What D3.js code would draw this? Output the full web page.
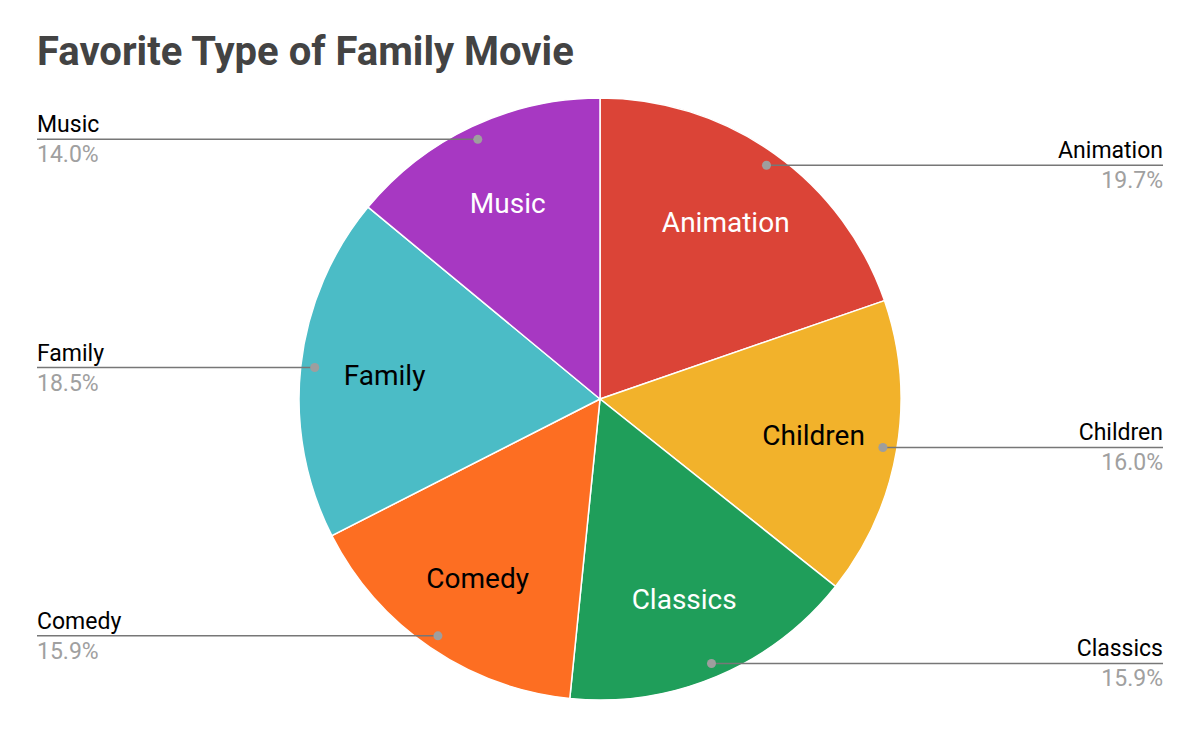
<!DOCTYPE html>
<html>
<head>
<meta charset="utf-8">
<script src="https://cdn.jsdelivr.net/npm/d3@7/dist/d3.min.js"></script>
<style>
  body { margin: 0; background: #fff; }
  svg text { font-family: Roboto, "Noto Sans", sans-serif; }
</style>
</head>
<body>
<div class="chart"></div>
<script>
'use strict';

var categories = ['Animation', 'Children', 'Classics', 'Comedy', 'Family', 'Music'];
var values = [19.7, 16.0, 15.9, 15.9, 18.5, 14.0];
var colors = ['#db4437', '#f2b22b', '#1f9e5a', '#fd6e22', '#4bbcc6', '#a738c2'];
var innerTextColors = ['#fff', '#000', '#fff', '#000', '#000', '#fff'];

var width = 1198,
    height = 732,
    cx = 600,
    cy = 399,
    radius = 301,
    leftX = 37,
    rightX = 1163;

var svg = d3.select('.chart').append('svg').attr('width', width).attr('height', height);

svg.append('text')
  .attr('x', 37).attr('y', 65)
  .style('font-size', '40px').style('font-weight', 'bold').style('fill', '#434343')
  .text('Favorite Type of Family Movie');

var data = categories.map(function (c, i) {
  return { name: c, value: values[i], color: colors[i], textColor: innerTextColors[i] };
});

var pie = d3.pie().sort(null).value(function (d) { return d.value; }),
    arc = d3.arc().innerRadius(0).outerRadius(radius),
    dotArc = d3.arc().innerRadius(287).outerRadius(287),
    labelArc = d3.arc().innerRadius(radius * 0.72).outerRadius(radius * 0.72),
    arcs = pie(data);

var g = svg.append('g').attr('transform', 'translate(' + cx + ',' + cy + ')');

g.selectAll('path.slice').data(arcs).enter().append('path')
  .attr('class', 'slice')
  .attr('d', arc)
  .style('fill', function (d) { return d.data.color; })
  .style('stroke', '#fff')
  .style('stroke-width', 1.5);

// labels inside slices
g.selectAll('text.inner').data(arcs).enter().append('text')
  .attr('class', 'inner')
  .attr('transform', function (d) { return 'translate(' + labelArc.centroid(d) + ')'; })
  .attr('text-anchor', 'middle')
  .attr('dy', '0.35em')
  .style('font-size', '28px')
  .style('fill', function (d) { return d.data.textColor; })
  .text(function (d) { return d.data.name; });

// leader lines and outside labels
var outer = g.selectAll('g.leader').data(arcs).enter().append('g').attr('class', 'leader');

function isRight(d) { return (d.startAngle + d.endAngle) / 2 < Math.PI; }

outer.append('line')
  .attr('x1', function (d) { return dotArc.centroid(d)[0]; })
  .attr('y1', function (d) { return dotArc.centroid(d)[1]; })
  .attr('x2', function (d) { return (isRight(d) ? rightX : leftX) - cx; })
  .attr('y2', function (d) { return dotArc.centroid(d)[1]; })
  .style('stroke', '#777')
  .style('stroke-width', 1.5);

outer.append('circle')
  .attr('cx', function (d) { return dotArc.centroid(d)[0]; })
  .attr('cy', function (d) { return dotArc.centroid(d)[1]; })
  .attr('r', 4.5)
  .style('fill', '#9e9e9e');

outer.append('text')
  .attr('x', function (d) { return (isRight(d) ? rightX : leftX) - cx; })
  .attr('y', function (d) { return dotArc.centroid(d)[1] - 7; })
  .attr('text-anchor', function (d) { return isRight(d) ? 'end' : 'start'; })
  .style('font-size', '23px')
  .style('fill', '#000')
  .text(function (d) { return d.data.name; });

outer.append('text')
  .attr('x', function (d) { return (isRight(d) ? rightX : leftX) - cx; })
  .attr('y', function (d) { return dotArc.centroid(d)[1] + 23; })
  .attr('text-anchor', function (d) { return isRight(d) ? 'end' : 'start'; })
  .style('font-size', '23px')
  .style('fill', '#a0a0a0')
  .text(function (d) { return d.data.value.toFixed(1) + '%'; });
</script>
</body>
</html>
